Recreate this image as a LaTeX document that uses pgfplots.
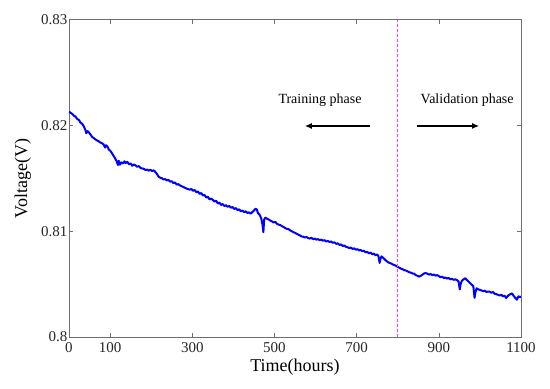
\documentclass[border=0pt]{standalone}
\usepackage{fontspec}
\setmainfont{Liberation Serif}
\usepackage{pgfplots}
\pgfplotsset{compat=1.18}
\usetikzlibrary{arrows.meta}
\definecolor{axgray}{RGB}{110,110,110}
\definecolor{lineblue}{RGB}{0,0,255}
\definecolor{vmag}{RGB}{250,60,250}
\begin{document}
\begin{tikzpicture}
\begin{axis}[
  name=ax, at={(0,0)}, anchor=south west,
  width=452pt, height=317.5pt, scale only axis,
  xmin=0, xmax=1100, ymin=0.8, ymax=0.83,
  xtick={0,100,300,500,700,900,1100},
  xticklabels={0,100,300,500,700,900,1100},
  ytick={0.80,0.81,0.82,0.83},
  yticklabels={0.8,0.81,0.82,0.83},
  /pgf/number format/assume math mode=true,
  scaled y ticks=false,
  tick align=inside,
  major tick length=4pt,
  axis line style={axgray, line width=0.8pt},
  every tick/.style={axgray, line width=0.6pt},
  ticklabel style={font=\rmfamily\fontsize{15}{17}\selectfont, text=black!85},
  yticklabel style={inner sep=1.5pt},
  xticklabel style={inner sep=2pt, yshift=-3pt},
  xlabel={Time(hours)},
  ylabel={Voltage(V)},
  xlabel style={font=\rmfamily\fontsize{18}{20}\selectfont, at={(axis description cs:0.5,-0.1093)}, anchor=base},
  ylabel style={font=\rmfamily\fontsize{18}{20}\selectfont, at={(axis description cs:-0.0929,0.5)}, anchor=base, rotate=0},
]
\addplot[draw=lineblue, line width=2pt, line join=round] coordinates {
(0,0.82130) (4,0.82118) (8,0.82108) (12,0.82090) (16,0.82082) (20,0.82060) (24,0.82052) (28,0.82025) (32,0.82015) (36,0.81990)
(40,0.81955) (42,0.81925) (45,0.81945) (48,0.81935) (52,0.81915) (56,0.81892) (60,0.81880) (64,0.81868) (68,0.81858) (72,0.81850)
(76,0.81838) (80,0.81832) (84,0.81820) (88,0.81790) (90,0.81812) (94,0.81798) (97,0.81770) (100,0.81762) (104,0.81740) (108,0.81715)
(112,0.81690) (116,0.81660) (119,0.81625) (121,0.81665) (124,0.81628) (127,0.81650) (131,0.81640) (135,0.81660) (138,0.81642) (142,0.81655)
(146,0.81632) (150,0.81640) (154,0.81618) (158,0.81630) (162,0.81622) (166,0.81608) (170,0.81615) (174,0.81598) (178,0.81592) (182,0.81590)
(186,0.81578) (190,0.81582) (194,0.81572) (198,0.81580) (202,0.81568) (206,0.81575) (210,0.81560) (214,0.81540) (218,0.81515) (222,0.81505)
(226,0.81500) (230,0.81488) (234,0.81492) (238,0.81480) (242,0.81485) (246,0.81468) (250,0.81472) (254,0.81455) (258,0.81460) (262,0.81440)
(266,0.81445) (270,0.81432) (274,0.81425) (278,0.81418) (282,0.81410) (286,0.81402) (290,0.81398) (294,0.81392) (298,0.81398) (302,0.81382)
(306,0.81388) (310,0.81368) (314,0.81375) (318,0.81352) (322,0.81360) (326,0.81338) (330,0.81342) (334,0.81318) (338,0.81325) (342,0.81300)
(346,0.81308) (350,0.81295) (354,0.81280) (358,0.81288) (362,0.81262) (366,0.81270) (370,0.81248) (374,0.81256) (378,0.81238) (382,0.81245)
(386,0.81230) (390,0.81238) (394,0.81222) (398,0.81228) (402,0.81210) (406,0.81218) (410,0.81200) (414,0.81206) (418,0.81188) (422,0.81195)
(426,0.81180) (430,0.81188) (434,0.81172) (438,0.81178) (442,0.81165) (446,0.81180) (450,0.81195) (454,0.81212) (457,0.81205) (460,0.81170)
(464,0.81155) (468,0.81120) (471,0.81060) (473,0.80990) (475,0.81110) (478,0.81128) (482,0.81118) (486,0.81110) (490,0.81100) (494,0.81092)
(498,0.81082) (502,0.81088) (506,0.81070) (510,0.81062) (514,0.81058) (518,0.81048) (522,0.81040) (526,0.81030) (530,0.81022) (534,0.81020)
(538,0.81008) (542,0.81000) (546,0.80990) (550,0.80985) (554,0.80975) (558,0.80968) (562,0.80960) (566,0.80950) (570,0.80948) (574,0.80940)
(578,0.80945) (582,0.80935) (586,0.80930) (590,0.80938) (594,0.80925) (598,0.80930) (602,0.80920) (606,0.80925) (610,0.80915) (614,0.80920)
(618,0.80910) (622,0.80915) (626,0.80902) (630,0.80908) (634,0.80898) (638,0.80902) (642,0.80890) (646,0.80895) (650,0.80880) (654,0.80885)
(658,0.80870) (662,0.80875) (666,0.80860) (670,0.80865) (674,0.80852) (678,0.80848) (682,0.80840) (686,0.80845) (690,0.80832) (694,0.80838)
(698,0.80825) (702,0.80830) (706,0.80818) (710,0.80822) (714,0.80810) (718,0.80815) (722,0.80800) (726,0.80805) (730,0.80790) (734,0.80798)
(738,0.80782) (742,0.80788) (746,0.80772) (750,0.80780) (753,0.80765) (756,0.80700) (758,0.80740) (761,0.80762) (764,0.80750) (768,0.80735)
(772,0.80720) (776,0.80708) (780,0.80700) (784,0.80695) (788,0.80685) (792,0.80680) (796,0.80672) (800,0.80662) (804,0.80655) (808,0.80645)
(812,0.80640) (816,0.80632) (820,0.80628) (824,0.80620) (828,0.80612) (832,0.80608) (836,0.80600) (840,0.80598) (844,0.80585) (848,0.80578)
(852,0.80570) (856,0.80578) (860,0.80588) (864,0.80600) (868,0.80605) (872,0.80598) (876,0.80590) (880,0.80595) (884,0.80585) (888,0.80590)
(892,0.80580) (896,0.80585) (900,0.80575) (904,0.80565) (908,0.80570) (912,0.80558) (916,0.80562) (920,0.80552) (924,0.80558) (928,0.80545)
(932,0.80550) (936,0.80540) (940,0.80545) (944,0.80538) (948,0.80525) (951,0.80450) (953,0.80500) (956,0.80530) (960,0.80545) (964,0.80555)
(968,0.80540) (972,0.80525) (976,0.80510) (980,0.80495) (984,0.80480) (987,0.80370) (989,0.80420) (992,0.80460) (996,0.80450) (1000,0.80445)
(1004,0.80440) (1008,0.80432) (1012,0.80438) (1016,0.80425) (1020,0.80430) (1024,0.80428) (1028,0.80418) (1032,0.80425) (1036,0.80408) (1040,0.80405)
(1044,0.80398) (1048,0.80392) (1052,0.80400) (1056,0.80385) (1060,0.80390) (1064,0.80368) (1066,0.80380) (1070,0.80395) (1074,0.80405) (1078,0.80412)
(1082,0.80390) (1086,0.80370) (1090,0.80352) (1094,0.80385) (1098,0.80375) (1100,0.80385)
};
\draw[vmag, line width=1.3pt, densely dashed] (axis cs:800,0.8) -- (axis cs:800,0.83);
\node[font=\rmfamily\fontsize{14}{16}\selectfont] at (axis cs:611,0.8224) {Training phase};
\node[font=\rmfamily\fontsize{14}{16}\selectfont] at (axis cs:969,0.8224) {Validation phase};
\draw[-{Latex[length=7pt,width=6pt]}, line width=1.2pt] (axis cs:733,0.81994) -- (axis cs:574,0.81994);
\draw[-{Latex[length=7pt,width=6pt]}, line width=1.2pt] (axis cs:847,0.81994) -- (axis cs:998,0.81994);
\end{axis}
\pgfresetboundingbox
\path[use as bounding box] ([xshift=-69pt,yshift=-52pt]ax.south west) rectangle ([xshift=481pt,yshift=337pt]ax.south west);
\end{tikzpicture}
\end{document}
